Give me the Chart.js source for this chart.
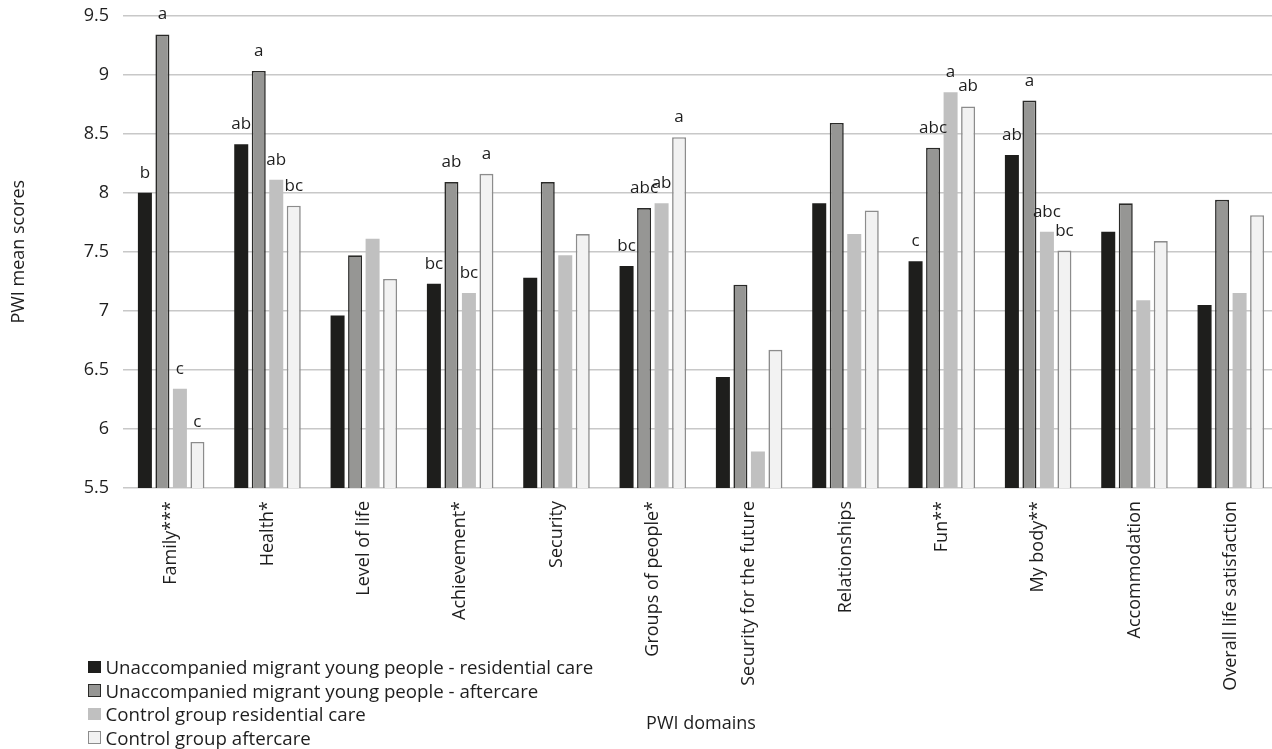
<!DOCTYPE html>
<html>
<head>
<meta charset="utf-8">
<script src="https://cdn.jsdelivr.net/npm/chart.js@4.4.0/dist/chart.umd.min.js"></script>
<style>
  html, body { margin: 0; padding: 0; background: #ffffff; overflow: hidden; width: 1272px; height: 749px; }
  #wrap { position: relative; width: 1279px; height: 749px; }
  #legend { position: absolute; left: 88px; top: 655px; font-family: "Open Sans", sans-serif; font-size: 18.7px; color: #1e1e1e; }
  .item { display: flex; align-items: center; white-space: nowrap; height: 23.5px; }
  .box { width: 12.5px; height: 12.5px; box-sizing: border-box; margin-right: 5px; flex: none; }
</style>
</head>
<body>
<div id="wrap">
  <canvas id="c" width="1279" height="749"></canvas>
  <div id="legend"></div>
</div>
<script>
const categories = ['Family***', 'Health*', 'Level of life', 'Achievement*', 'Security', 'Groups of people*',
  'Security for the future', 'Relationships', 'Fun**', 'My body**', 'Accommodation', 'Overall life satisfaction'];

const seriesNames = [
  'Unaccompanied migrant young people - residential care',
  'Unaccompanied migrant young people - aftercare',
  'Control group residential care',
  'Control group aftercare'
];

const migrantResidential = [8.00, 8.41, 6.96, 7.23, 7.28, 7.38, 6.44, 7.91, 7.42, 8.32, 7.67, 7.05];
const migrantAftercare   = [9.34, 9.03, 7.47, 8.09, 8.09, 7.87, 7.22, 8.59, 8.38, 8.78, 7.91, 7.94];
const controlResidential = [6.34, 8.11, 7.61, 7.15, 7.47, 7.91, 5.81, 7.65, 8.85, 7.67, 7.09, 7.15];
const controlAftercare   = [5.89, 7.89, 7.27, 8.16, 7.65, 8.47, 6.67, 7.85, 8.73, 7.51, 7.59, 7.81];

const lettersMigrantResidential = ['b', 'ab', '', 'bc', '', 'bc', '', '', 'c', 'ab', '', ''];
const lettersMigrantAftercare   = ['a', 'a', '', 'ab', '', 'abc', '', '', 'abc', 'a', '', ''];
const lettersControlResidential = ['c', 'ab', '', 'bc', '', 'ab', '', '', 'a', 'abc', '', ''];
const lettersControlAftercare   = ['c', 'bc', '', 'a', '', 'a', '', '', 'ab', 'bc', '', ''];

const yTickValues = [5.5, 6, 6.5, 7, 7.5, 8, 8.5, 9, 9.5];
const yTickLabels = ['5.5', '6', '6.5', '7', '7.5', '8', '8.5', '9', '9.5'];

const xTitle = 'PWI domains';
const yTitle = 'PWI mean scores';

const seriesValues = [migrantResidential, migrantAftercare, controlResidential, controlAftercare];
const seriesLetters = [lettersMigrantResidential, lettersMigrantAftercare, lettersControlResidential, lettersControlAftercare];
const seriesFill = ['#1e1e1c', '#969694', '#c0c0c0', '#f2f2f2'];
const seriesBorder = ['#1e1e1c', '#2a2a28', '#c0c0c0', '#8c8c8c'];
const seriesBorderWidth = [0, 1.6, 0, 1.6];

const FONT = '"Open Sans", sans-serif';
const TEXT = '#1e1e1e';

const letterPlugin = {
  id: 'letters',
  afterDatasetsDraw(chart) {
    const ctx = chart.ctx;
    ctx.save();
    ctx.font = '17px ' + FONT;
    ctx.fillStyle = TEXT;
    ctx.textAlign = 'center';
    ctx.textBaseline = 'alphabetic';
    chart.data.datasets.forEach((ds, i) => {
      const meta = chart.getDatasetMeta(i);
      meta.data.forEach((bar, j) => {
        const t = seriesLetters[i][j];
        if (t) ctx.fillText(t, bar.x, bar.y - 15);
      });
    });
    ctx.restore();
  }
};

new Chart(document.getElementById('c'), {
  type: 'bar',
  data: {
    labels: categories,
    datasets: seriesValues.map((vals, i) => ({
      label: seriesNames[i],
      data: vals,
      backgroundColor: seriesFill[i],
      borderColor: seriesBorder[i],
      borderWidth: seriesBorderWidth[i],
      borderSkipped: false,
      categoryPercentage: 0.727,
      barPercentage: 0.8
    }))
  },
  options: {
    responsive: false,
    animation: false,
    devicePixelRatio: 1,
    layout: { padding: { top: 15.5, right: 0, left: 0, bottom: 0 } },
    plugins: { legend: { display: false }, tooltip: { enabled: false } },
    scales: {
      x: {
        grid: { display: false, drawTicks: false },
        border: { display: false },
        ticks: { font: { family: FONT, size: 18 }, color: TEXT, minRotation: 90, maxRotation: 90, padding: 13, autoSkip: false },
        title: { display: true, text: xTitle, font: { family: FONT, size: 18 }, color: TEXT, padding: { top: 0, bottom: 14 } },
        afterFit(s) { s.height = 261; }
      },
      y: {
        min: 5.5, max: 9.5,
        ticks: {
          stepSize: 0.5, padding: 14, font: { family: FONT, size: 18 }, color: TEXT,
          callback: (v) => { const k = yTickValues.indexOf(v); return k >= 0 ? yTickLabels[k] : ''; }
        },
        grid: { color: '#c8c8c8', lineWidth: 1.6, drawTicks: false },
        border: { display: false },
        title: { display: true, text: yTitle, font: { family: FONT, size: 18 }, color: TEXT, padding: { top: 8, bottom: 0 } },
        afterFit(s) { s.width = 123; s.paddingTop = 0; s.paddingBottom = 0; }
      }
    }
  },
  plugins: [letterPlugin]
});

const legend = document.getElementById('legend');
seriesNames.forEach((name, i) => {
  const item = document.createElement('div');
  item.className = 'item';
  const box = document.createElement('span');
  box.className = 'box';
  box.style.background = seriesFill[i];
  if (seriesBorderWidth[i] > 0) box.style.border = '1.6px solid ' + seriesBorder[i];
  const label = document.createElement('span');
  label.textContent = name;
  item.appendChild(box);
  item.appendChild(label);
  legend.appendChild(item);
});
</script>
</body>
</html>
